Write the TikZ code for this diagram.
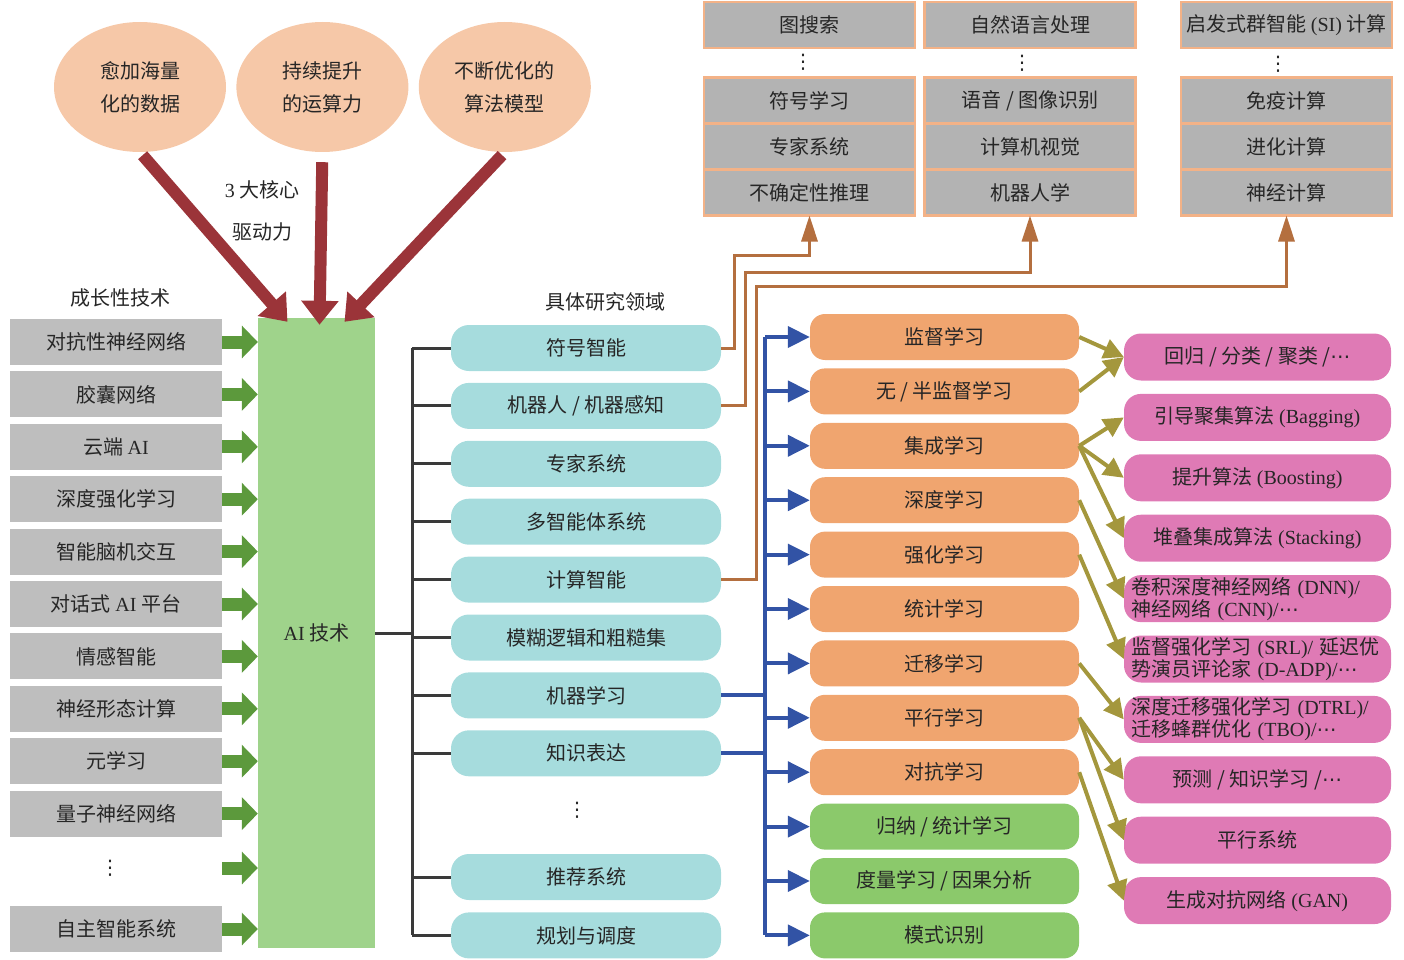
\documentclass[tikz,border=0pt]{standalone}
\usepackage{fontspec}
\setmainfont{Noto Sans CJK SC}
\newfontfamily\lat{Liberation Serif}
\newfontfamily\symfont{DejaVu Sans}
\usepackage{tikz}
\usetikzlibrary{positioning,arrows.meta,shapes.geometric,calc}
\definecolor{peach}{HTML}{F6C8A8}
\definecolor{darkred}{HTML}{9B3439}
\definecolor{boxgray}{HTML}{BEBEBE}
\definecolor{topgray}{HTML}{B3B3B3}
\definecolor{topedge}{HTML}{F3B287}
\definecolor{aigreen}{HTML}{9FD38B}
\definecolor{arrgreen}{HTML}{5C993C}
\definecolor{cyanbox}{HTML}{A6DCDD}
\definecolor{orangebox}{HTML}{F0A56F}
\definecolor{greenbox}{HTML}{8BC96B}
\definecolor{pinkbox}{HTML}{DF7AB5}
\definecolor{brownline}{HTML}{B46F3F}
\definecolor{blueline}{HTML}{3253A5}
\definecolor{oliveline}{HTML}{A4973D}
\definecolor{treeline}{HTML}{3A3A3A}
\newcommand\figfont{\fontsize{20pt}{24pt}\selectfont}
\newcommand\etc{{\symfont ⋯}}
\tikzset{
  txt/.style={text=black!85,font=\figfont,inner sep=0pt},
  drivebox/.style={txt,ellipse,fill=peach,minimum width=172pt,minimum height=130pt,align=center,
    font=\fontsize{20pt}{33pt}\selectfont},
  grbox/.style={txt,fill=boxgray,minimum width=212pt,minimum height=46pt},
  topbox/.style={txt,draw=topedge,line width=2.5pt,fill=topgray,minimum width=211pt,minimum height=46pt,outer sep=0pt},
  fieldbox/.style={txt,fill=cyanbox,rounded corners=18pt,minimum width=270pt,minimum height=46pt},
  mlbox/.style={txt,fill=orangebox,rounded corners=15pt,minimum width=269pt,minimum height=46pt},
  mlgreen/.style={mlbox,fill=greenbox},
  appbox/.style={txt,fill=pinkbox,rounded corners=17pt,minimum width=267pt,minimum height=47pt},
  apptwo/.style={appbox,align=left,text width=253pt,inner xsep=7pt,font=\fontsize{20pt}{22pt}\selectfont},
  dotnode/.style={txt,font=\symfont\fontsize{20pt}{24pt}\selectfont},
  redarr/.style={draw=darkred,line width=12pt,-{Triangle[length=24pt,width=36pt]}},
  grarr/.style={draw=arrgreen,line width=13pt,-{Triangle[length=16pt,width=32pt]}},
  treeln/.style={draw=treeline,line width=3pt},
  brarr/.style={draw=brownline,line width=3pt,-{Triangle[length=26pt,width=16pt]}},
  blueln/.style={draw=blueline,line width=4pt},
  bluearr/.style={blueln,-{Triangle[length=22pt,width=21pt]}},
  olarr/.style={draw=oliveline,line width=4pt,-{Triangle[length=20pt,width=20pt]}},
}
\begin{document}
\begin{tikzpicture}[x=1pt,y=-1pt]
\useasboundingbox (0,0) rectangle (1404,960);

% three driving forces
\node[drivebox] (data) at (140,87) {愈加海量\\化的数据};
\node[drivebox, right=10pt of data] (power) {持续提升\\的运算力};
\node[drivebox, right=10pt of power] (algo) {不断优化的\\算法模型};
\node[txt, align=center, font=\fontsize{20pt}{42pt}\selectfont] (core) at (262,211) {{\lat 3} 大核心\\驱动力};

% AI box
\node[txt, fill=aigreen, minimum width=117pt, minimum height=630pt] (ai) at (316.5,633) {{\lat AI} 技术};
\draw[redarr, shorten <=4pt] (data.south) -- ($(ai.north)+(-29,4)$);
\draw[redarr, shorten <=10pt] (power.south) -- ($(ai.north)+(3,7)$);
\draw[redarr, shorten <=4pt] (algo.south) -- ($(ai.north)+(28,4)$);

% growing technologies
\node[txt] (grtitle) at (120,298) {成长性技术};
\node[grbox] (g1) at (116,342) {对抗性神经网络};
\node[grbox, below=6pt of g1] (g2) {胶囊网络};
\node[grbox, below=6pt of g2] (g3) {云端 {\lat AI}};
\node[grbox, below=6pt of g3] (g4) {深度强化学习};
\node[grbox, below=6pt of g4] (g5) {智能脑机交互};
\node[grbox, below=6pt of g5] (g6) {对话式 {\lat AI} 平台};
\node[grbox, below=6pt of g6] (g7) {情感智能};
\node[grbox, below=6pt of g7] (g8) {神经形态计算};
\node[grbox, below=6pt of g8] (g9) {元学习};
\node[grbox, below=6pt of g9] (g10) {量子神经网络};
\node[dotnode] (gdots) at (110,868) {⋮};
\node[grbox, below=69pt of g10] (g11) {自主智能系统};
\foreach \n in {g1,g2,g3,g4,g5,g6,g7,g8,g9,g10,g11}
  \draw[grarr] (\n.east) -- (\n.east -| ai.west);
\draw[grarr] (g1.east |- gdots) -- (ai.west |- gdots);

% research fields
\node[txt] (fdtitle) at (605,302) {具体研究领域};
\node[fieldbox] (f1) at (586,348) {符号智能};
\node[fieldbox, below=11.5pt of f1] (f2) {机器人 / 机器感知};
\node[fieldbox, below=11.5pt of f2] (f3) {专家系统};
\node[fieldbox, below=11.5pt of f3] (f4) {多智能体系统};
\node[fieldbox, below=11.5pt of f4] (f5) {计算智能};
\node[fieldbox, below=11.5pt of f5] (f6) {模糊逻辑和粗糙集};
\node[fieldbox, below=11.5pt of f6] (f7) {机器学习};
\node[fieldbox, below=11.5pt of f7] (f8) {知识表达};
\node[dotnode] (fdots) at (577,810) {⋮};
\node[fieldbox] (f9) at (586,877) {推荐系统};
\node[fieldbox, below=12pt of f9] (f10) {规划与调度};
\coordinate (tk) at (412,0);
\draw[treeln] (ai.east) -- (ai.east -| tk);
\draw[treeln] (tk |- f1.west) -- (tk |- f10.west);
\foreach \n in {f1,f2,f3,f4,f5,f6,f7,f8,f9,f10}
  \draw[treeln] (tk |- \n.west) -- (\n.west);

% top branches
\node[topbox] (s0) at (809.5,25) {图搜索};
\node[dotnode] (sdots) at (803,62) {⋮};
\node[topbox] (s1) at (809.5,100.5) {符号学习};
\node[topbox, below=0pt of s1] (s2) {专家系统};
\node[topbox, below=0pt of s2] (s3) {不确定性推理};
\node[topbox] (n0) at (1030,25) {自然语言处理};
\node[dotnode] (ndots) at (1022,63) {⋮};
\node[topbox] (n1) at (1030,100.5) {语音 / 图像识别};
\node[topbox, below=0pt of n1] (n2) {计算机视觉};
\node[topbox, below=0pt of n2] (n3) {机器人学};
\node[topbox] (c0) at (1286.5,25) {启发式群智能 {\lat (SI)} 计算};
\node[dotnode] (cdots) at (1278,64) {⋮};
\node[topbox] (c1) at (1286.5,100.5) {免疫计算};
\node[topbox, below=0pt of c1] (c2) {进化计算};
\node[topbox, below=0pt of c2] (c3) {神经计算};
\draw[brarr] (f1.east) -| (734,255) -| (s3.south);
\draw[brarr] (f2.east) -| (745,272) -| (n3.south);
\draw[brarr] (f5.east) -| (756,286) -| (c3.south);

% learning methods
\node[mlbox] (m1) at (944.5,337) {监督学习};
\node[mlbox, below=8pt of m1] (m2) {无 / 半监督学习};
\node[mlbox, below=8pt of m2] (m3) {集成学习};
\node[mlbox, below=8pt of m3] (m4) {深度学习};
\node[mlbox, below=8pt of m4] (m5) {强化学习};
\node[mlbox, below=8pt of m5] (m6) {统计学习};
\node[mlbox, below=8pt of m6] (m7) {迁移学习};
\node[mlbox, below=8pt of m7] (m8) {平行学习};
\node[mlbox, below=8pt of m8] (m9) {对抗学习};
\node[mlgreen, below=8pt of m9] (m10) {归纳 / 统计学习};
\node[mlgreen, below=8pt of m10] (m11) {度量学习 / 因果分析};
\node[mlgreen, below=8pt of m11] (m12) {模式识别};
\coordinate (bt) at (765,0);
\draw[blueln] (f7.east) -- (f7.east -| bt);
\draw[blueln] (f8.east) -- (f8.east -| bt);
\draw[blueln] (bt |- m1.west) -- (bt |- m12.west);
\foreach \n in {m1,m2,m3,m4,m5,m6,m7,m8,m9,m10,m11,m12}
  \draw[bluearr] (bt |- \n.west) -- (\n.west);

% algorithms
\node[appbox] (p1) at (1257.5,357) {回归 / 分类 / 聚类 /\etc};
\node[appbox, below=13pt of p1] (p2) {引导聚集算法 {\lat (Bagging)}};
\node[appbox, below=13pt of p2] (p3) {提升算法 {\lat (Boosting)}};
\node[appbox, below=13pt of p3] (p4) {堆叠集成算法 {\lat (Stacking)}};
\node[apptwo, below=13pt of p4] (p5) {卷积深度神经网络 {\lat (DNN)/}\\神经网络 {\lat (CNN)/}\etc};
\node[apptwo, below=13pt of p5] (p6) {监督强化学习 {\lat (SRL)/} 延迟优\\势演员评论家 {\lat (D-ADP)/}\etc};
\node[apptwo, below=13pt of p6] (p7) {深度迁移强化学习 {\lat (DTRL)/}\\迁移蜂群优化 {\lat (TBO)/}\etc};
\node[appbox, below=13pt of p7] (p8) {预测 / 知识学习 /\etc};
\node[appbox, below=13pt of p8] (p9) {平行系统};
\node[appbox, below=13pt of p9] (p10) {生成对抗网络 {\lat (GAN)}};
\draw[olarr] (m1.east) -- (p1.west);
\draw[olarr] (m2.east) -- (p1.west);
\draw[olarr] (m3.east) -- (p2.west);
\draw[olarr] (m3.east) -- (p3.west);
\draw[olarr] (m3.east) -- (p4.west);
\draw[olarr] (m4.east) -- (p5.west);
\draw[olarr] (m5.east) -- (p6.west);
\draw[olarr] (m7.east) -- (p7.west);
\draw[olarr] (m8.east) -- (p8.west);
\draw[olarr] (m8.east) -- (p9.west);
\draw[olarr] (m9.east) -- (p10.west);

\end{tikzpicture}
\end{document}
